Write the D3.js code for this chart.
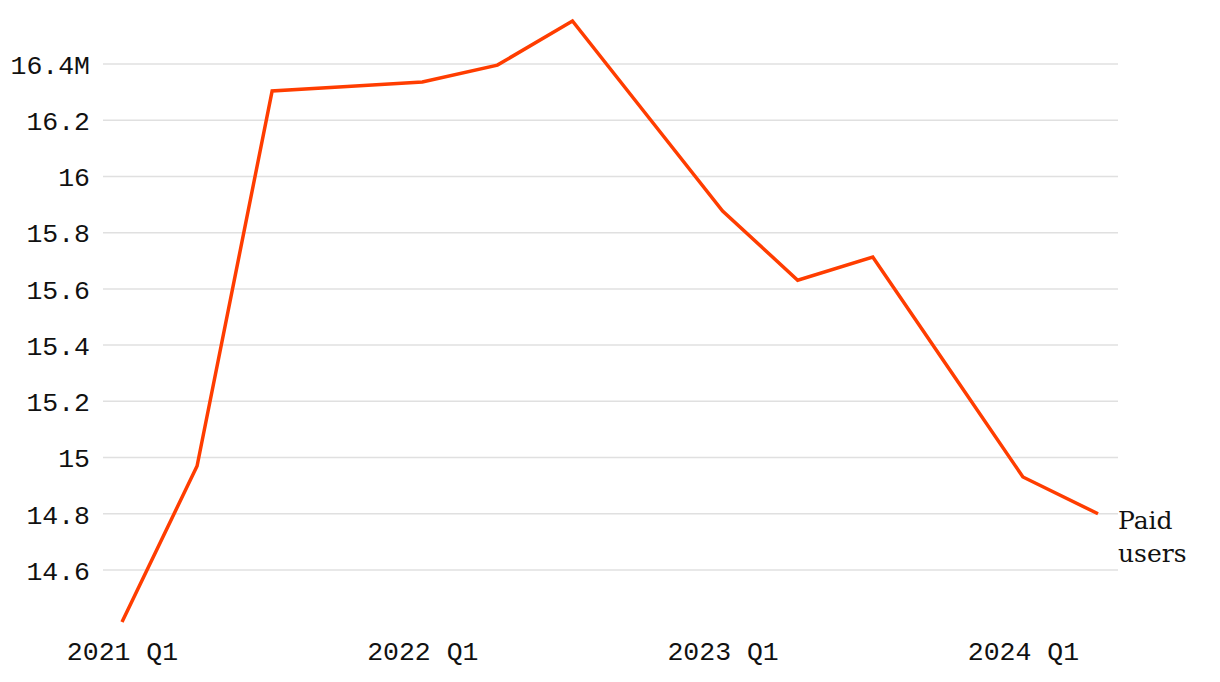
<!DOCTYPE html>
<html><head><meta charset="utf-8">
<script src="https://cdn.jsdelivr.net/npm/d3@7"></script>
<style>body{margin:0;background:#fff}svg{display:block}</style>
</head><body>
<svg id="c" width="1220" height="682"></svg>
<script>
const quarters = ["2021 Q1","2021 Q2","2021 Q3","2021 Q4","2022 Q1","2022 Q2","2022 Q3","2022 Q4","2023 Q1","2023 Q2","2023 Q3","2023 Q4","2024 Q1","2024 Q2"];
const paidUsers = [14.415,14.97,16.304,16.32,16.336,16.396,16.553,16.215,15.877,15.631,15.713,15.322,14.931,14.80];
const yTicks = [14.6,14.8,15,15.2,15.4,15.6,15.8,16,16.2,16.4];
const xTickLabels = ["2021 Q1","2022 Q1","2023 Q1","2024 Q1"];
const seriesLabel = ["Paid","users"];

const svg = d3.select("#c");
const x = d3.scalePoint().domain(quarters).range([122, 1098]);
const y = d3.scaleLinear().domain(d3.extent(paidUsers)).range([622, 21]);
const mono = "'Liberation Mono', 'DejaVu Sans Mono', monospace";

const grid = svg.append("g");
grid.selectAll("line").data(yTicks).join("line")
  .attr("x1", 103).attr("x2", 1118)
  .attr("y1", d => y(d)).attr("y2", d => y(d))
  .attr("stroke", "#e0e0e0").attr("stroke-width", 1.5);

const yAxis = d3.axisLeft(y).tickValues(yTicks).tickSize(0).tickPadding(0)
  .tickFormat(d => d3.format("~g")(d) + (d === 16.4 ? "M" : ""));
const yg = svg.append("g").attr("transform", "translate(90,0)").call(yAxis);
yg.select(".domain").remove();
yg.selectAll("text").attr("font-family", mono).attr("font-size", 26.5).attr("fill", "#111").attr("dy", "0.35em");

const xAxis = d3.axisBottom(x).tickValues(xTickLabels).tickSize(0).tickPadding(0);
const xg = svg.append("g").attr("transform", "translate(0,651)").call(xAxis);
xg.select(".domain").remove();
xg.selectAll("text").attr("font-family", mono).attr("font-size", 26.5).attr("fill", "#111").attr("dy", "0.35em").attr("y", 0);

const line = d3.line().x((d,i) => x(quarters[i])).y(d => y(d));
svg.append("path").datum(paidUsers).attr("d", line)
  .attr("fill", "none").attr("stroke", "#ff3d00").attr("stroke-width", 3.5)
  .attr("stroke-linejoin", "miter");

const last = paidUsers.length - 1;
svg.append("text").attr("x", 1118).attr("y", y(paidUsers[last]) + 15)
  .attr("font-family", "'DejaVu Serif', serif").attr("font-size", 25).attr("fill", "#111")
  .selectAll("tspan").data(seriesLabel).join("tspan")
  .attr("x", 1118).attr("dy", (d,i) => i ? 33 : 0).text(d => d);
</script>
</body></html>
